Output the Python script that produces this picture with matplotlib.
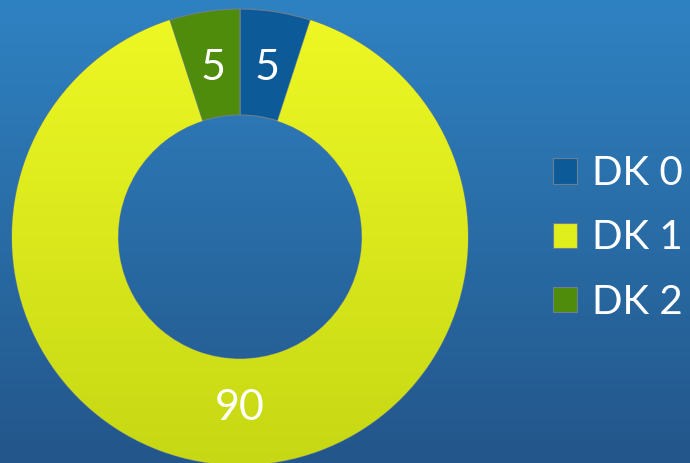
import numpy as np
import matplotlib.pyplot as plt
from matplotlib.colors import LinearSegmentedColormap

# chart data
labels = ['DK 0', 'DK 1', 'DK 2']
values = [5, 90, 5]
colors = ['#0d5a98', '#e0ef1c', '#4f8c0c']

plt.rcParams['font.family'] = ['Lato', 'DejaVu Sans']

fig = plt.figure(figsize=(6.9, 4.63), dpi=100)

# blue gradient background
bg = fig.add_axes([0, 0, 1, 1])
bg_cmap = LinearSegmentedColormap.from_list('bg', ['#2f82c2', '#23568a'])
bg.imshow(np.linspace(0, 1, 256).reshape(-1, 1), aspect='auto', cmap=bg_cmap,
          extent=[0, 1, 0, 1])
bg.set_axis_off()

# donut
ax = fig.add_axes([12 / 690, -2 / 463, 456 / 690, 456 / 463])
wedges, texts, autotexts = ax.pie(
    values, colors=colors, startangle=90, counterclock=False, radius=1,
    autopct=lambda p: f'{p * sum(values) / 100:.0f}', pctdistance=0.75,
    wedgeprops=dict(width=0.465, edgecolor='#6a8090', linewidth=0.8),
    textprops=dict(color='white', fontsize=31))

# shading on the big slice: brighter at the top, olive at the bottom
shade = LinearSegmentedColormap.from_list('shade', ['#c6d814', '#eef824'])
img = ax.imshow(np.linspace(0, 1, 256).reshape(-1, 1), cmap=shade, origin='lower',
                extent=[-1, 1, -1, 1], aspect='auto', zorder=1.5)
img.set_clip_path(wedges[1])
ax.set_xlim(-1, 1)
ax.set_ylim(-1, 1)

fig.legend(wedges, labels, loc='center left', bbox_to_anchor=(517 / 690, 225 / 463),
           frameon=False, fontsize=29, labelcolor='white',
           handlelength=0.6, handleheight=0.6, handletextpad=0.35, labelspacing=0.68)

fig.savefig('out.png', dpi=100)
